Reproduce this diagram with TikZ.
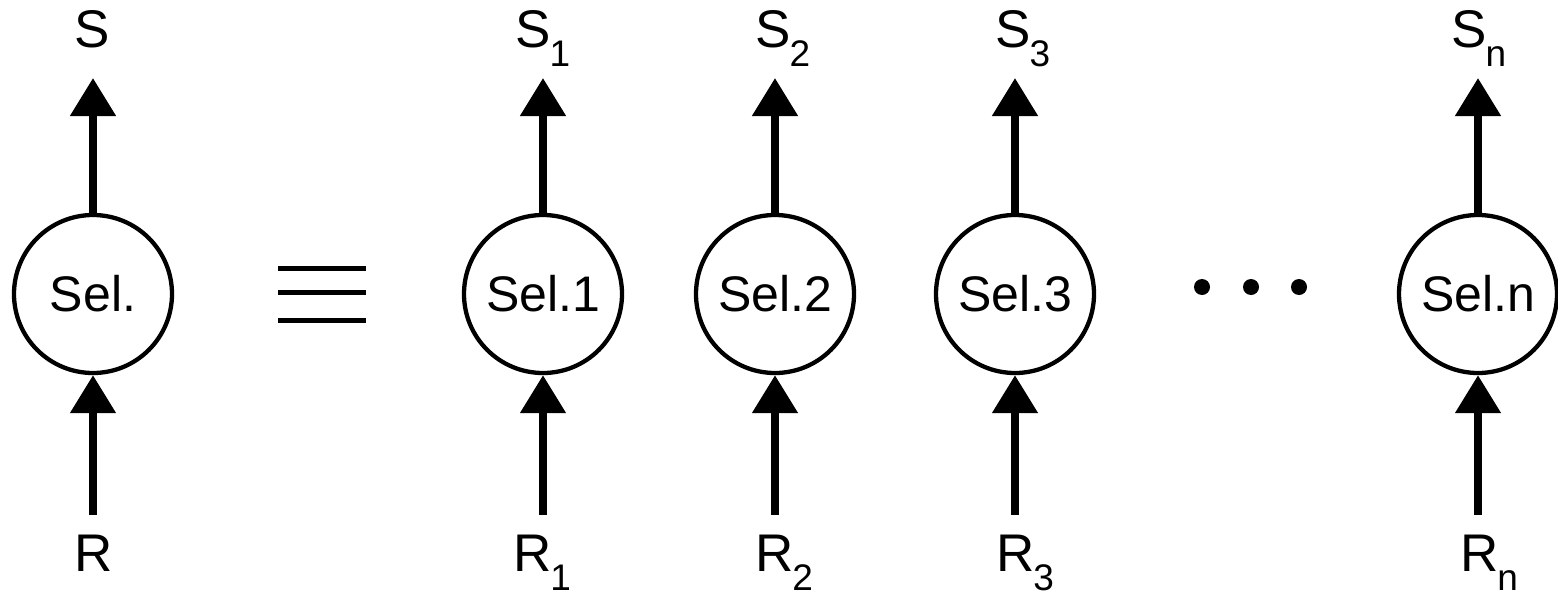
\documentclass[tikz,border=0pt]{standalone}
\usepackage{fontspec}
\setmainfont{Liberation Sans}
\usetikzlibrary{arrows.meta}
% label with a lowered index, e.g. S with index 1
\newcommand\sublab[2]{#1\kern-1pt\raisebox{-19pt}{\fontsize{37}{37}\selectfont #2}}
\begin{document}
\begin{tikzpicture}[x=1pt,y=-1pt,
  sel/.style={circle,draw,line width=4.3pt,minimum size=158pt,inner sep=0pt,
              font=\fontsize{50}{50}\selectfont},
  flow/.style={line width=8pt,-{Triangle[length=38pt,width=44pt]}},
  lab/.style={anchor=base west,inner sep=0pt,font=\fontsize{53}{53}\selectfont},
  eqbar/.style={line width=5pt},
  dotmark/.style={circle,fill,inner sep=0pt,minimum size=16pt}]
\useasboundingbox (0,0) rectangle (1558,594);

% selector circles
\node[sel] (s0) at (93,294)   {Sel.};
\node[sel] (s1) at (543,294)  {Sel.1};
\node[sel] (s2) at (775,294)  {Sel.2};
\node[sel] (s3) at (1015,294) {Sel.3};
\node[sel] (sn) at (1478,294) {Sel.n};

% output labels
\node[lab] (o0) at (74,48)   {S};
\node[lab] (o1) at (515,48)  {\sublab{S}{1}};
\node[lab] (o2) at (755,48)  {\sublab{S}{2}};
\node[lab] (o3) at (995,48)  {\sublab{S}{3}};
\node[lab] (on) at (1451,48) {\sublab{S}{n}};

% input labels
\node[lab] (i0) at (74,571)   {R};
\node[lab] (i1) at (513,571)  {\sublab{R}{1}};
\node[lab] (i2) at (755,571)  {\sublab{R}{2}};
\node[lab] (i3) at (996,571)  {\sublab{R}{3}};
\node[lab] (in) at (1460,571) {\sublab{R}{n}};

% arrow ends
\foreach \n/\x in {0/93,1/543,2/775,3/1015,n/1478}{
  \coordinate (t\n) at (\x,78);
  \coordinate (b\n) at (\x,515);
}
\foreach \n in {0,1,2,3,n}{
  \draw[flow] (s\n.north) -- (t\n);
  \draw[flow] (b\n) -- (s\n.south);
}

% equivalence sign
\coordinate (e1a) at (278,268); \coordinate (e1b) at (366,268);
\coordinate (e2a) at (278,292); \coordinate (e2b) at (366,292);
\coordinate (e3a) at (278,320); \coordinate (e3b) at (366,320);
\draw[eqbar] (e1a) -- (e1b);
\draw[eqbar] (e2a) -- (e2b);
\draw[eqbar] (e3a) -- (e3b);

% ellipsis dots
\node[dotmark] (d1) at (1202,287) {};
\node[dotmark] (d2) at (1251,287) {};
\node[dotmark] (d3) at (1299,287) {};
\end{tikzpicture}
\end{document}
